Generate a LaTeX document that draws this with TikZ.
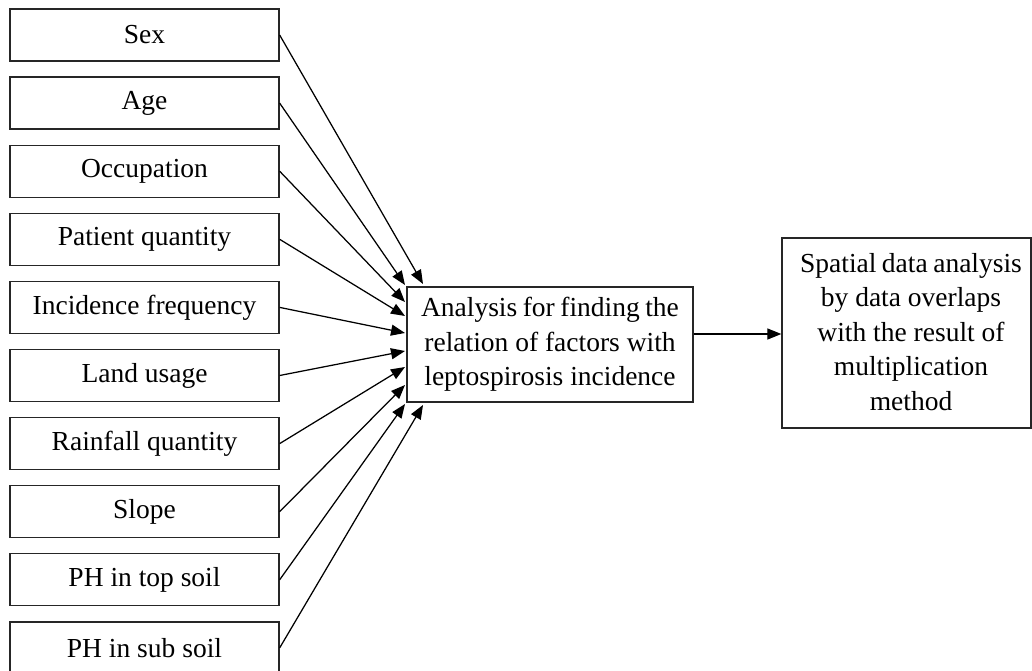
\documentclass[tikz,border=0pt]{standalone}
\usepackage{fontspec}
\setmainfont{Liberation Serif}
\usetikzlibrary{arrows.meta}
\begin{document}
\begin{tikzpicture}[x=1pt,y=-1pt,
  factor/.style={draw=black!85,line width=1.3pt,minimum width=269pt,minimum height=52pt,inner sep=0pt,font=\fontsize{27.5}{34}\selectfont},
  bigbox/.style={draw=black!85,line width=1.3pt,inner sep=0pt,font=\fontsize{27.5}{34.5}\selectfont,align=center},
  conn/.style={line width=1.25pt,-{Triangle[length=14pt,width=11pt]}}]
\useasboundingbox (0,0) rectangle (1032,671);
\foreach \n/\t [count=\i from 0] in {sex/Sex,age/Age,occ/Occupation,pat/Patient quantity,inc/Incidence frequency,land/Land usage,rain/Rainfall quantity,slope/Slope,phtop/PH in top soil,phsub/PH in sub soil}
  \node[factor] (\n) at (144.5,{35+68.1*\i}) {\t};
\node[bigbox,minimum width=286pt,minimum height=115pt] (mid) at (550,344.5) {\spaceskip=0.2em plus 0.05em minus 0.05em Analysis for finding the\\relation of factors with\\leptospirosis incidence};
\node[bigbox,minimum width=249pt,minimum height=190pt] (res) at (906.5,333) {};
\node[font=\fontsize{27.5}{34.5}\selectfont,align=center,inner sep=0pt] (restext) at (911,332) {\spaceskip=0.2em plus 0.05em minus 0.05em Spatial data analysis\\by data overlaps\\with the result of\\multiplication\\method};
\coordinate (t1) at (423,284);
\coordinate (t2) at (405,285);
\coordinate (t3) at (405,302);
\coordinate (t4) at (405,316);
\coordinate (t5) at (405,333);
\coordinate (t6) at (405,351);
\coordinate (t7) at (405,367);
\coordinate (t8) at (405,385);
\coordinate (t9) at (405,404);
\coordinate (t10) at (423,405);
\foreach \n [count=\i] in {sex,age,occ,pat,inc,land,rain,slope,phtop,phsub}
  \draw[conn] (\n.east) -- (t\i);
\coordinate (m1) at (mid.east |- 0,334);
\draw[conn] (m1) -- (res.west |- m1);
\end{tikzpicture}
\end{document}
